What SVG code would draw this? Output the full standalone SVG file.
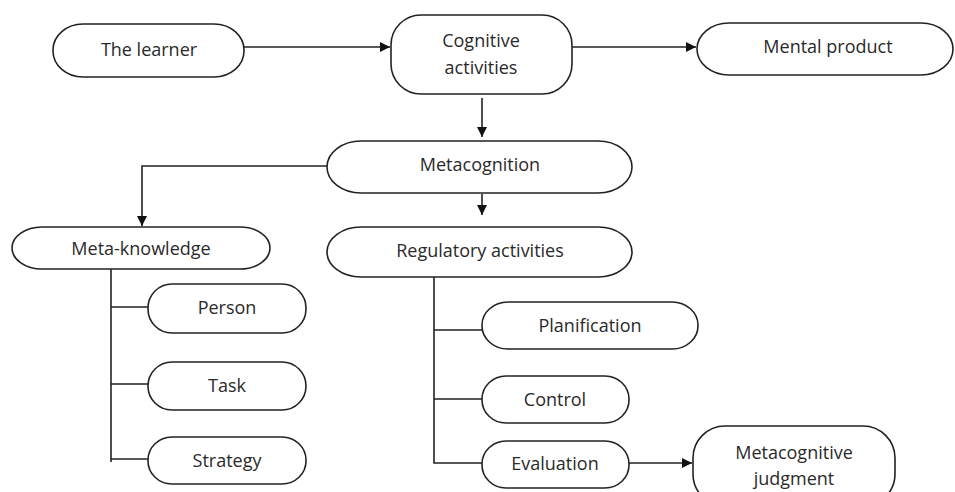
<svg xmlns="http://www.w3.org/2000/svg" width="955" height="492" viewBox="0 0 955 492">
<style>
.n{fill:#fff;stroke:#222;stroke-width:1.6}
.t{font-family:"Open Sans","Liberation Sans",sans-serif;font-size:18px;fill:#2a2a2a;text-anchor:middle;dominant-baseline:central}
.c{fill:none;stroke:#222;stroke-width:1.6}
</style>
<defs>
<marker id="a" viewBox="0 0 10 10" refX="10" refY="5" markerWidth="10" markerHeight="10" markerUnits="userSpaceOnUse" orient="auto">
<path d="M0,0 L10,5 L0,10 z" fill="#111"/>
</marker>
</defs>
<rect width="955" height="492" fill="#fff"/>
<g id="connectors">
<path class="c" d="M244,47 H390" marker-end="url(#a)"/>
<path class="c" d="M572,47 H696" marker-end="url(#a)"/>
<path class="c" d="M482,98 V137" marker-end="url(#a)"/>
<path class="c" d="M327,166 H142 V226" marker-end="url(#a)"/>
<path class="c" d="M482,194 V215" marker-end="url(#a)"/>
<path class="c" d="M111,269 V462"/>
<path class="c" d="M111,307 H148 M111,384 H148 M111,459 H148"/>
<path class="c" d="M434,277 V463 H482 M434,330 H482 M434,399 H482"/>
<path class="c" d="M629,463 H692" marker-end="url(#a)"/>
</g>
<g id="learner"><rect class="n" x="53" y="24" width="191" height="53" rx="30" ry="26"/><text class="t" x="149" y="49">The learner</text></g>
<g id="cognitive"><rect class="n" x="391" y="15" width="181" height="79" rx="30" ry="30"/><text class="t" x="481" y="40">Cognitive</text><text class="t" x="481" y="67">activities</text></g>
<g id="mental"><rect class="n" x="697" y="23" width="256" height="52" rx="32" ry="26"/><text class="t" x="828" y="46">Mental product</text></g>
<g id="metacognition"><rect class="n" x="327" y="141" width="305" height="52" rx="34" ry="26"/><text class="t" x="480" y="164">Metacognition</text></g>
<g id="metaknowledge"><rect class="n" x="12" y="227" width="258" height="42" rx="30" ry="21"/><text class="t" x="141" y="248">Meta-knowledge</text></g>
<g id="regulatory"><rect class="n" x="327" y="227" width="305" height="50" rx="34" ry="25"/><text class="t" x="480" y="250">Regulatory activities</text></g>
<g id="person"><rect class="n" x="148" y="284" width="158" height="49" rx="24" ry="24"/><text class="t" x="227" y="307">Person</text></g>
<g id="task"><rect class="n" x="148" y="362" width="158" height="48" rx="24" ry="24"/><text class="t" x="227" y="385">Task</text></g>
<g id="strategy"><rect class="n" x="148" y="437" width="158" height="47" rx="24" ry="23"/><text class="t" x="227" y="460">Strategy</text></g>
<g id="planification"><rect class="n" x="482" y="302" width="216" height="47" rx="26" ry="23"/><text class="t" x="590" y="325">Planification</text></g>
<g id="control"><rect class="n" x="482" y="376" width="147" height="47" rx="24" ry="23"/><text class="t" x="555" y="399">Control</text></g>
<g id="evaluation"><rect class="n" x="482" y="441" width="147" height="47" rx="24" ry="23"/><text class="t" x="555" y="463">Evaluation</text></g>
<g id="judgment"><rect class="n" x="693" y="426" width="202" height="80" rx="32" ry="32"/><text class="t" x="794" y="452">Metacognitive</text><text class="t" x="794" y="478">judgment</text></g>
</svg>
